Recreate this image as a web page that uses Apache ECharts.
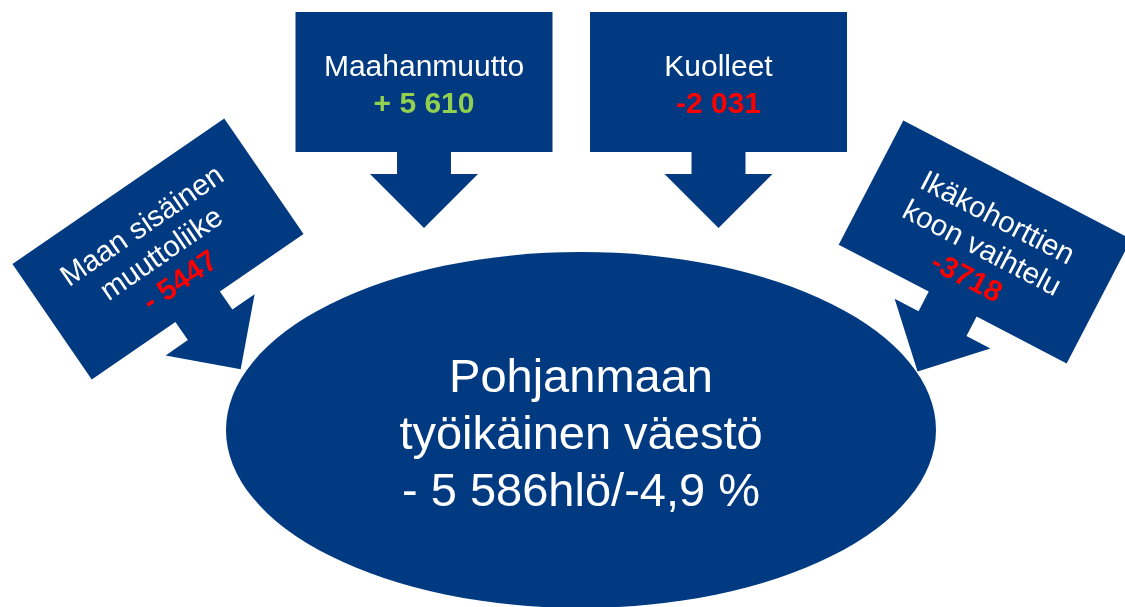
<!DOCTYPE html>
<html>
<head>
<meta charset="utf-8">
<script src="https://cdn.jsdelivr.net/npm/echarts@6/dist/echarts.min.js"></script>
<style>
  html, body { margin: 0; padding: 0; background: #fff; }
  #chart { width: 1125px; height: 607px; }
</style>
</head>
<body>
<div id="chart"></div>
<script>
// flows into the working-age population
const flowNames = ['Maahanmuutto', 'Kuolleet', 'Maan sisäinen\nmuuttoliike', 'Ikäkohorttien\nkoon vaihtelu']
const flowValues = ['+ 5 610', '-2 031', '- 5447', '-3718']
const centerLines = ['Pohjanmaan', 'työikäinen väestö', '- 5 586hlö/-4,9 %']

const BLUE = '#023A82'
const GREEN = '#92D050'
const RED = '#FF0000'
const FONT = '"Liberation Sans", Arial, sans-serif'

// where each box sits (center, rotation in degrees, text rows in local coords)
const layout = [
  { x: 424, y: 82, rot: 0, rows: [-14, 23], size: 30 },
  { x: 718.5, y: 82, rot: 0, rows: [-14, 23], size: 30 },
  { x: 158, y: 249, rot: 34.5, rows: [-27, 7, 40], size: 29.5 },
  { x: 985, y: 242, rot: -27.5, rows: [-26, 8, 41], size: 29.5 }
]

// box with arrow below it, in local coords
const arrowBox = [
  [-128.5, -70], [128.5, -70], [128.5, 70], [27, 70], [27, 92], [54, 92],
  [0, 146], [-54, 92], [-27, 92], [-27, 70], [-128.5, 70]
]

function textEl(str, x, y, size, color, bold) {
  return {
    type: 'text',
    x: x,
    y: y,
    z: 10,
    style: {
      text: str,
      fill: color,
      fontSize: size,
      fontWeight: bold ? 'bold' : 'normal',
      fontFamily: FONT,
      align: 'center',
      verticalAlign: 'middle',
      textAlign: 'center',
      textVerticalAlign: 'middle'
    }
  }
}

const elements = []

// central ellipse
elements.push({
  type: 'circle',
  x: 581,
  y: 430,
  scaleX: 355 / 178,
  scaleY: 1,
  shape: { cx: 0, cy: 0, r: 178 },
  style: { fill: BLUE }
})
const centerRows = [379, 436, 493]
centerLines.forEach((line, i) => {
  elements.push(textEl(line, 581, centerRows[i], 47, '#fff', false))
})

flowNames.forEach((name, i) => {
  const l = layout[i]
  const lines = name.split('\n')
  const val = flowValues[i]
  const children = [{ type: 'polygon', shape: { points: arrowBox }, style: { fill: BLUE } }]
  lines.forEach((ln, j) => children.push(textEl(ln, 0, l.rows[j], l.size, '#fff', false)))
  children.push(textEl(val, 0, l.rows[lines.length], l.size, val.trim()[0] === '+' ? GREEN : RED, true))
  elements.push({
    type: 'group',
    x: l.x,
    y: l.y,
    rotation: (l.rot * Math.PI) / 180,
    children: children
  })
})

const chart = echarts.init(document.getElementById('chart'), null, { renderer: 'canvas' })
chart.setOption({
  backgroundColor: '#fff',
  animation: false,
  graphic: { elements: elements }
})
</script>
</body>
</html>
